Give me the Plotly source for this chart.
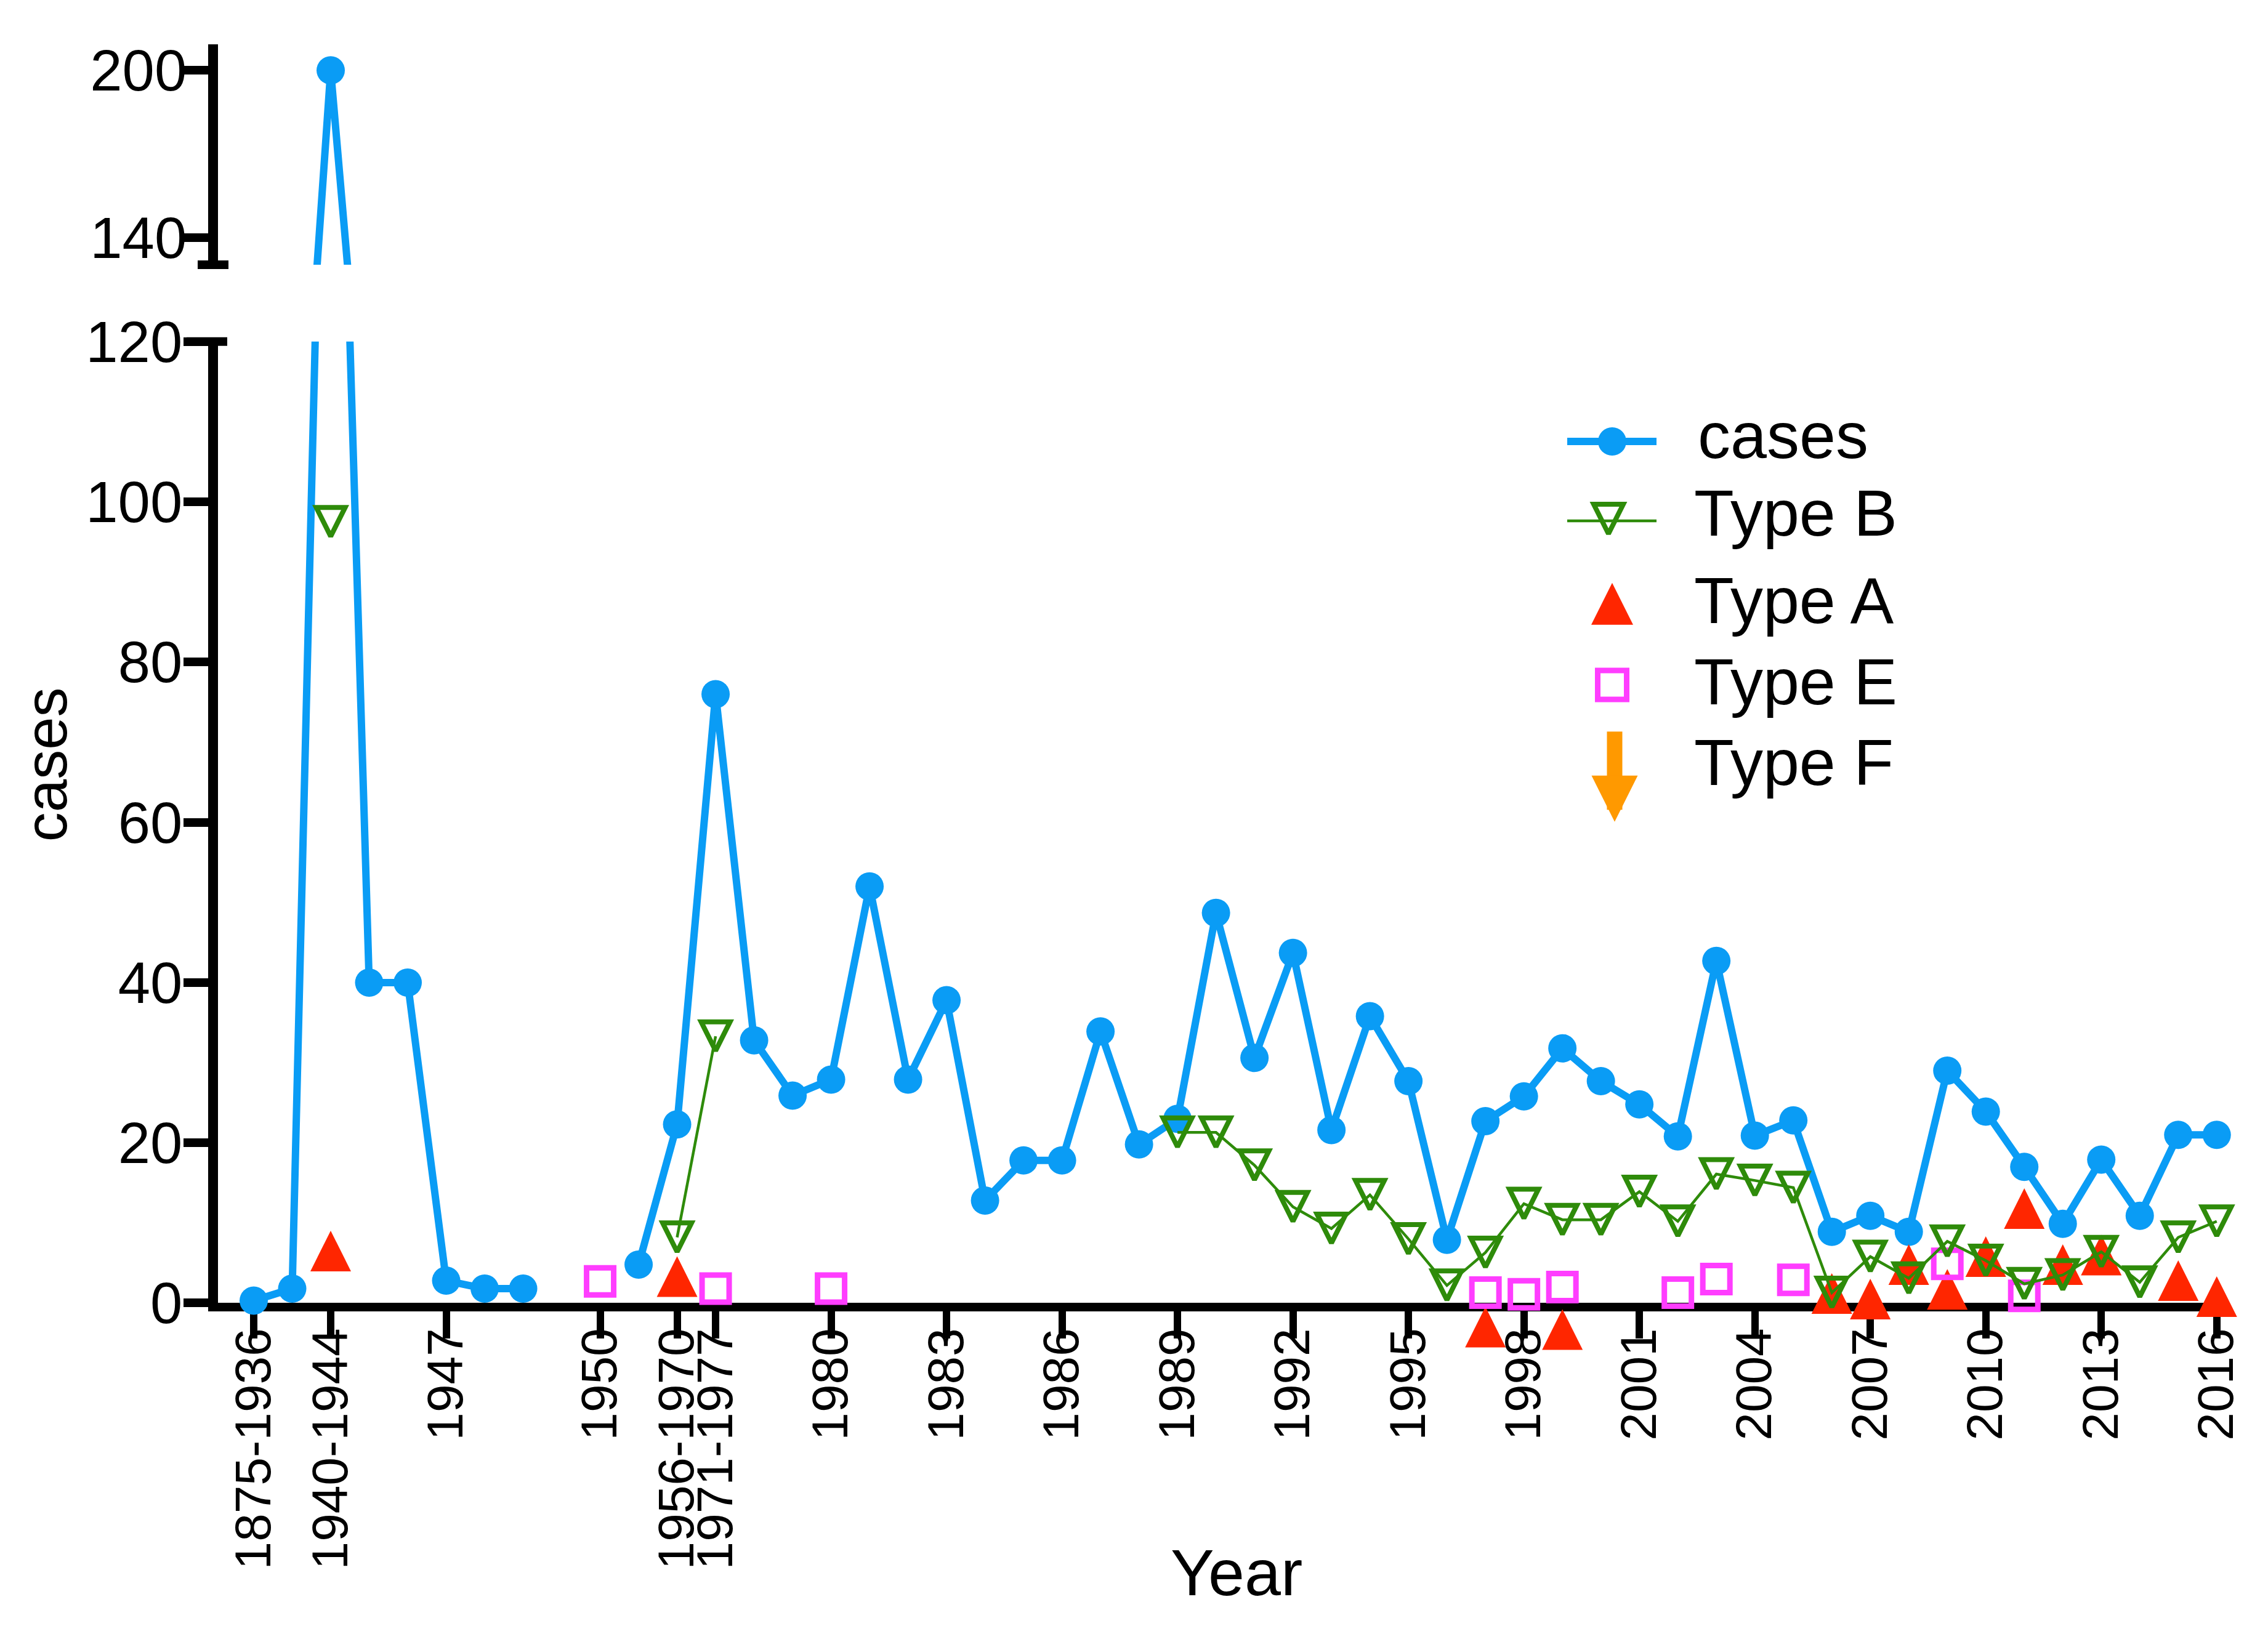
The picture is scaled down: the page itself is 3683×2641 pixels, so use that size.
import plotly.graph_objects as go

# ---------------- data ----------------
categories = ["1875-1936", "1937-1939", "1940-1944", "1945", "1946", "1947", "1948", "1949", " ",
              "1950", "1951-1955", "1956-1970", "1971-1977", "1978", "1979"] + [str(y) for y in range(1980, 2017)]

tick_labels = ["1875-1936", "1940-1944", "1947", "1950", "1956-1970", "1971-1977"] + [str(y) for y in range(1980, 2017, 3)]

cases = [0.3, 1.8, 200, 40, 40, 2.8, 1.8, 1.8, None, None,
         4.8, 22.3, 76, 32.8, 25.9, 27.9, 52, 27.9, 37.8, 12.8,
         17.8, 17.8, 33.9, 19.8, 23, 48.7, 30.6, 43.7, 21.6, 35.8,
         27.7, 7.9, 22.7, 25.8, 31.8, 27.7, 24.8, 20.8, 42.7, 20.9,
         22.8, 8.9, 10.9, 8.9, 29, 23.9, 17, 9.9, 17.9, 10.9,
         21, 21]

type_b = [None, None, 97.5, None, None, None, None, None, None, None,
          None, 8.2, 33.3, None, None, None, None, None, None, None,
          None, None, None, None, 21.3, 21.3, 17.2, 12, 9.3, 13.5,
          8, 2.2, 6.3, 12.4, 10.4, 10.4, 13.9, 10.2, 16.1, 15.3,
          14.4, 1.3, 5.8, 3.1, 7.7, 5.3, 2.4, 3.5, 6.4, 2.6,
          8.2, 10.2]

type_a_years = ["1940-1944", "1956-1970", "1997", "1999", "2006", "2007", "2008",
                "2009", "2010", "2011", "2012", "2013", "2015", "2016"]
type_a_values = [6.5, 3.3, -3.0, -3.3, 1.2, 0.5, 4.8, 1.7, 5.8, 11.8, 4.8, 6.0, 2.8, 0.8]

type_e_years = ["1950", "1971-1977", "1980", "1997", "1998", "1999", "2002", "2003", "2005", "2009", "2011"]
type_e_values = [2.7, 1.8, 1.8, 1.3, 1.1, 2.0, 1.3, 3.0, 2.9, 4.9, 0.9]

type_f_years = ["2014", "2015"]
type_f_tip = [23.7, 23.7]

legend_names = ["cases", "Type B", "Type A", "Type E", "Type F"]

# ---------------- style / geometry ----------------
BLUE = "#0A9CF5"
GREEN = "#2E8B0A"
RED = "#FF2600"
MAGENTA = "#FF3DFF"
ORANGE = "#FF9900"
FONT = "Liberation Sans, Arial, sans-serif"

W, H = 3683, 2641
PLOT_TOP_PX = 28        # top end of upper y-axis line
UPPER_BOTTOM_PX = 392   # lower end of upper axis (cap)
LOWER_TOP_PX = 519      # y = 120
PLOT_BOTTOM_PX = 2107   # y = 0 (x axis)
EXT = 90                # extra room below y=0 for markers drawn under the axis
PAPER_BOTTOM_PX = PLOT_BOTTOM_PX + EXT
ML, MR = 346, 85
MT, MB = PLOT_TOP_PX, H - PAPER_BOTTOM_PX
PW = W - ML - MR
PH = H - MT - MB
BOTTOM_DOM = [EXT / PH, (PAPER_BOTTOM_PX - LOWER_TOP_PX) / PH]
TOP_DOM = [(PAPER_BOTTOM_PX - UPPER_BOTTOM_PX) / PH, 1]
XRANGE = [-0.928, 51.1]
PX_PER_UNIT = (PLOT_BOTTOM_PX - LOWER_TOP_PX) / 120.0
MARK_RANGE = [-EXT / PX_PER_UNIT, 120]
# upper axis: 200 at 71 px, 140 at 347 px
_u = (347 - 71) / 60.0
TOP_RANGE = [140 - (UPPER_BOTTOM_PX - 347) / _u, 200 + (71 - PLOT_TOP_PX) / _u]


def px_x(px):
    return (px - ML) / PW


def px_y(py):
    return (PAPER_BOTTOM_PX - py) / PH


fig = go.Figure()

# bottom panel: line (clipped at 120)
fig.add_trace(go.Scatter(x=categories, y=cases, mode="lines", line=dict(color=BLUE, width=12),
                         connectgaps=False, xaxis="x", yaxis="y", showlegend=False, hoverinfo="skip"))
# bottom panel markers (same scale, room below zero)
fig.add_trace(go.Scatter(x=categories, y=cases, mode="markers",
                         marker=dict(color=BLUE, size=46, symbol="circle", line=dict(width=0)),
                         cliponaxis=False, xaxis="x4", yaxis="y4", showlegend=False, name="cases"))
fig.add_trace(go.Scatter(x=type_a_years, y=type_a_values, mode="markers",
                         marker=dict(color=RED, size=66, symbol="arrow-down", angle=180, standoff=33,
                                     line=dict(width=0)),
                         cliponaxis=False, xaxis="x4", yaxis="y4", showlegend=False, name="Type A"))
fig.add_trace(go.Scatter(x=type_e_years, y=type_e_values, mode="markers",
                         marker=dict(color=MAGENTA, size=44, symbol="square-open",
                                     line=dict(width=9, color=MAGENTA)),
                         cliponaxis=False, xaxis="x4", yaxis="y4", showlegend=False, name="Type E"))
fig.add_trace(go.Scatter(x=categories, y=type_b, mode="lines+markers", connectgaps=False,
                         line=dict(color=GREEN, width=4.5),
                         marker=dict(color=GREEN, size=47, symbol="arrow-down-open", standoff=23.5,
                                     line=dict(width=8, color=GREEN)),
                         cliponaxis=False, xaxis="x4", yaxis="y4", showlegend=False, name="Type B"))

# top panel (broken axis part)
fig.add_trace(go.Scatter(x=categories, y=cases, mode="lines+markers", connectgaps=False,
                         line=dict(color=BLUE, width=12),
                         marker=dict(color=BLUE, size=46),
                         xaxis="x2", yaxis="y2", showlegend=False, hoverinfo="skip"))

# Type F arrows
for yr, tip in zip(type_f_years, type_f_tip):
    fig.add_annotation(x=yr, y=tip, xref="x", yref="y", text="", showarrow=True,
                       ax=0, ay=-148, arrowhead=2, arrowwidth=22, arrowsize=0.64,
                       arrowcolor=ORANGE, font=dict(size=1))

# ---------------- custom legend ----------------
sym_rows = [684, 812, 952, 1086]
text_rows = [674, 802, 946, 1080, 1214]
sym_x = px_x(2610)
lx0, lx1 = px_x(2537), px_x(2682)
fig.add_trace(go.Scatter(x=[lx0, lx1], y=[px_y(sym_rows[0])] * 2, mode="lines",
                         line=dict(color=BLUE, width=12), xaxis="x3", yaxis="y3",
                         showlegend=False, hoverinfo="skip", cliponaxis=False))
fig.add_trace(go.Scatter(x=[sym_x], y=[px_y(sym_rows[0])], mode="markers",
                         marker=dict(color=BLUE, size=46), xaxis="x3", yaxis="y3",
                         showlegend=False, hoverinfo="skip", cliponaxis=False))
fig.add_trace(go.Scatter(x=[lx0, lx1], y=[px_y(sym_rows[1] + 3)] * 2, mode="lines",
                         line=dict(color=GREEN, width=4.5), xaxis="x3", yaxis="y3",
                         showlegend=False, hoverinfo="skip", cliponaxis=False))
fig.add_trace(go.Scatter(x=[px_x(2604)], y=[px_y(sym_rows[1])], mode="markers",
                         marker=dict(color=GREEN, size=48, symbol="arrow-down-open", standoff=24,
                                     line=dict(width=8, color=GREEN)),
                         xaxis="x3", yaxis="y3", showlegend=False, hoverinfo="skip", cliponaxis=False))
fig.add_trace(go.Scatter(x=[sym_x], y=[px_y(sym_rows[2])], mode="markers",
                         marker=dict(color=RED, size=68, symbol="arrow-down", angle=180, standoff=34),
                         xaxis="x3", yaxis="y3", showlegend=False, hoverinfo="skip", cliponaxis=False))
fig.add_trace(go.Scatter(x=[sym_x], y=[px_y(sym_rows[3])], mode="markers",
                         marker=dict(color=MAGENTA, size=47, symbol="square-open",
                                     line=dict(width=9, color=MAGENTA)),
                         xaxis="x3", yaxis="y3", showlegend=False, hoverinfo="skip", cliponaxis=False))
fig.add_annotation(x=px_x(2614), y=px_y(1312), xref="paper", yref="paper", text="",
                   showarrow=True, ax=0, ay=-148, arrowhead=2, arrowwidth=25, arrowsize=0.6,
                   arrowcolor=ORANGE, font=dict(size=1))

for i, name in enumerate(legend_names):
    fig.add_annotation(x=px_x(2747 if i == 0 else 2741), y=px_y(text_rows[i]),
                       xref="paper", yref="paper", text=name, showarrow=False,
                       xanchor="left", yanchor="middle",
                       font=dict(family=FONT, size=106, color="black"))

# axis titles
fig.add_annotation(x=px_x(66), y=px_y(1218), xref="paper", yref="paper", text="cases",
                   showarrow=False, textangle=-90, xanchor="center", yanchor="middle",
                   font=dict(family=FONT, size=96, color="black"))
fig.add_annotation(x=px_x(2000), y=px_y(2552), xref="paper", yref="paper", text="Year",
                   showarrow=False, xanchor="center", yanchor="middle",
                   font=dict(family=FONT, size=106, color="black"))

# axis-break caps
fig.add_shape(type="line", xref="paper", yref="paper", xsizemode="pixel", xanchor=0,
              x0=-33, x1=17, y0=TOP_DOM[0], y1=TOP_DOM[0], line=dict(color="black", width=14))
fig.add_shape(type="line", xref="paper", yref="paper", xsizemode="pixel", xanchor=0,
              x0=-51, x1=15, y0=BOTTOM_DOM[1], y1=BOTTOM_DOM[1], line=dict(color="black", width=14))

axis_common = dict(showgrid=False, zeroline=False, showline=True, linecolor="black",
                   ticks="outside", tickcolor="black")
hidden_x = dict(domain=[0, 1], type="category", categoryorder="array",
                categoryarray=categories, range=XRANGE, visible=False)

fig.update_layout(
    width=W, height=H, autosize=False,
    margin=dict(l=ML, r=MR, t=MT, b=MB, pad=0),
    paper_bgcolor="white", plot_bgcolor="rgba(0,0,0,0)",
    font=dict(family=FONT, color="black"),
    showlegend=False,
    xaxis=dict(domain=[0, 1], anchor="y", type="category", categoryorder="array",
               categoryarray=categories, range=XRANGE, tickmode="array",
               tickvals=tick_labels, ticktext=tick_labels, tickangle=-90,
               ticklen=44, tickwidth=12, linewidth=14, layer="below traces",
               ticklabelstandoff=-50,
               tickfont=dict(size=82, family=FONT, color="black"), **axis_common),
    yaxis=dict(domain=BOTTOM_DOM, anchor="x", range=[0, 120], tickmode="array",
               tickvals=[0, 20, 40, 60, 80, 100, 120], ticklen=40, tickwidth=14, linewidth=16,
               layer="below traces", ticklabelstandoff=-17,
               tickfont=dict(size=94, family=FONT, color="black"), **axis_common),
    xaxis2=dict(anchor="y2", **hidden_x),
    yaxis2=dict(domain=TOP_DOM, anchor="x2", range=TOP_RANGE, tickmode="array",
                tickvals=[140, 200], ticklen=40, tickwidth=14, linewidth=16,
                ticklabelstandoff=-24,
                tickfont=dict(size=94, family=FONT, color="black"), **axis_common),
    xaxis3=dict(domain=[0, 1], anchor="y3", range=[0, 1], visible=False),
    yaxis3=dict(domain=[0, 1], anchor="x3", range=[0, 1], visible=False),
    xaxis4=dict(anchor="y4", **hidden_x),
    yaxis4=dict(domain=[0, BOTTOM_DOM[1]], anchor="x4", range=MARK_RANGE, visible=False),
)

fig.write_html("out.html")
